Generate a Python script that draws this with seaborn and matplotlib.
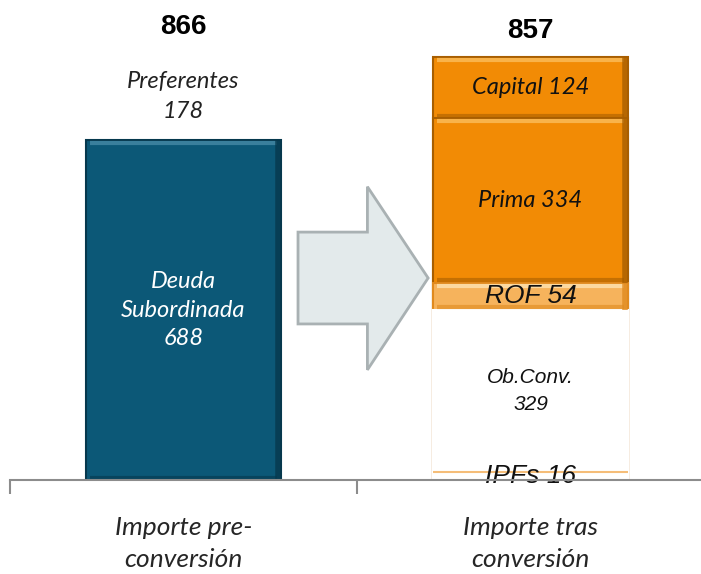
import numpy as np
import pandas as pd
import matplotlib
matplotlib.use("Agg")
import matplotlib.pyplot as plt
import seaborn as sns
from matplotlib.patches import Polygon

# data
categories = ["Importe pre-\nconversión", "Importe tras\nconversión"]
left_segments = ["Deuda\nSubordinada\n688", "Preferentes\n178"]
left_values = [688, 178]
right_segments = ["IPFs 16", "Ob.Conv.\n329", "ROF 54", "Prima 334", "Capital 124"]
right_values = [16, 329, 54, 334, 124]

left_colors = ["#0c5877", "white"]
left_edges = ["#06384d", "white"]
left_light = ["#3a7f9c", None]
right_colors = ["white", "white", "#f6b35c", "#f28b05", "#f28b05"]
right_edges = ["white", "white", "#e08a1e", "#a85e00", "#a85e00"]
right_light = [None, None, "#fcd9a0", "#f9b34a", "#f9b34a"]
label_size = [19, 15, 19, 17, 17]
label_font = ["Liberation Sans", "Liberation Sans", "Liberation Sans", "Lato", "Lato"]

sns.set_style("white")
plt.rcParams["font.family"] = ["Lato", "DejaVu Sans"]

fig = plt.figure(figsize=(7.01, 5.74), dpi=100)
ax = fig.add_axes([10 / 701, 94 / 574, 694 / 701, 479 / 574])

bar_w = 0.56


def stack(xpos, cat, vals, colors, edges, lights):
    cum = np.cumsum(vals)
    # draw tallest first so lower segments sit on top
    for i in range(len(vals) - 1, -1, -1):
        sns.barplot(x=[cat], y=[cum[i]], order=categories, color=colors[i],
                    edgecolor=edges[i], linewidth=1.5, width=bar_w, ax=ax,
                    saturation=1)
    # simple bevel: light band near the top, darker band near the bottom
    for i in range(len(vals)):
        if lights[i] is None:
            continue
        top = cum[i]
        bot = cum[i] - vals[i]
        ax.hlines(top - 6, xpos - bar_w / 2 + 0.01, xpos + bar_w / 2 - 0.01,
                  color=lights[i], lw=3, zorder=3)
        ax.hlines(bot + 5, xpos - bar_w / 2 + 0.01, xpos + bar_w / 2 - 0.01,
                  color=edges[i], lw=3, alpha=0.6, zorder=3)
        ax.vlines(xpos + bar_w / 2 - 0.008, bot, top, color=edges[i], lw=4,
                  alpha=0.8, zorder=3)
    return cum


cum_l = stack(0, categories[0], left_values, left_colors, left_edges, left_light)
cum_r = stack(1, categories[1], right_values, right_colors, right_edges, right_light)

# thin orange line on top of the IPFs slice
ax.hlines(cum_r[0], 1 - bar_w / 2, 1 + bar_w / 2, color="#f5bd78", lw=1.5, zorder=3)

# segment labels
left_spacing = [1.45, 1.55]
for i, lab in enumerate(left_segments):
    mid = cum_l[i] - left_values[i] / 2
    ax.text(0, mid, lab, ha="center", va="center", style="italic", fontsize=17,
            color="white" if i == 0 else "#222222", linespacing=left_spacing[i],
            zorder=5)
for i, lab in enumerate(right_segments):
    mid = cum_r[i] - right_values[i] / 2
    ax.text(1, mid, lab, ha="center", va="center", style="italic",
            fontsize=label_size[i], family=label_font[i], color="#111111",
            linespacing=1.55, zorder=5)

# totals
for x, tot in [(0, cum_l[-1]), (1, cum_r[-1])]:
    ax.text(x, tot + 52, f"{tot}", ha="center", va="center", fontsize=20,
            fontweight="bold", family="Liberation Sans", color="black")

# block arrow between the bars
arrow = Polygon([(0.33, 316), (0.33, 502), (0.53, 502), (0.53, 594),
                 (0.705, 409), (0.53, 223), (0.53, 316)], closed=True,
                facecolor="#e3eaeb", edgecolor="#a9b1b3", lw=2, zorder=4)
ax.add_patch(arrow)

ax.set_xlim(-0.5, 1.5)
ax.set_ylim(0, 970)
ax.set_xlabel("")
ax.set_ylabel("")
ax.set_yticks([])
for s in ["top", "right", "left"]:
    ax.spines[s].set_visible(False)
ax.spines["bottom"].set_color("#8c8c8c")
ax.spines["bottom"].set_linewidth(1.5)
ax.spines["bottom"].set_zorder(6)
ax.set_xticks([0, 1])
ax.set_xticklabels(categories, style="italic", fontsize=19, linespacing=1.45)
ax.tick_params(axis="x", which="major", length=0, pad=26)
ax.set_xticks([-0.5, 0.5, 1.5], minor=True)
ax.tick_params(axis="x", which="minor", bottom=True, length=10, width=1.5,
               color="#8c8c8c")

fig.savefig("out.png", dpi=100)
